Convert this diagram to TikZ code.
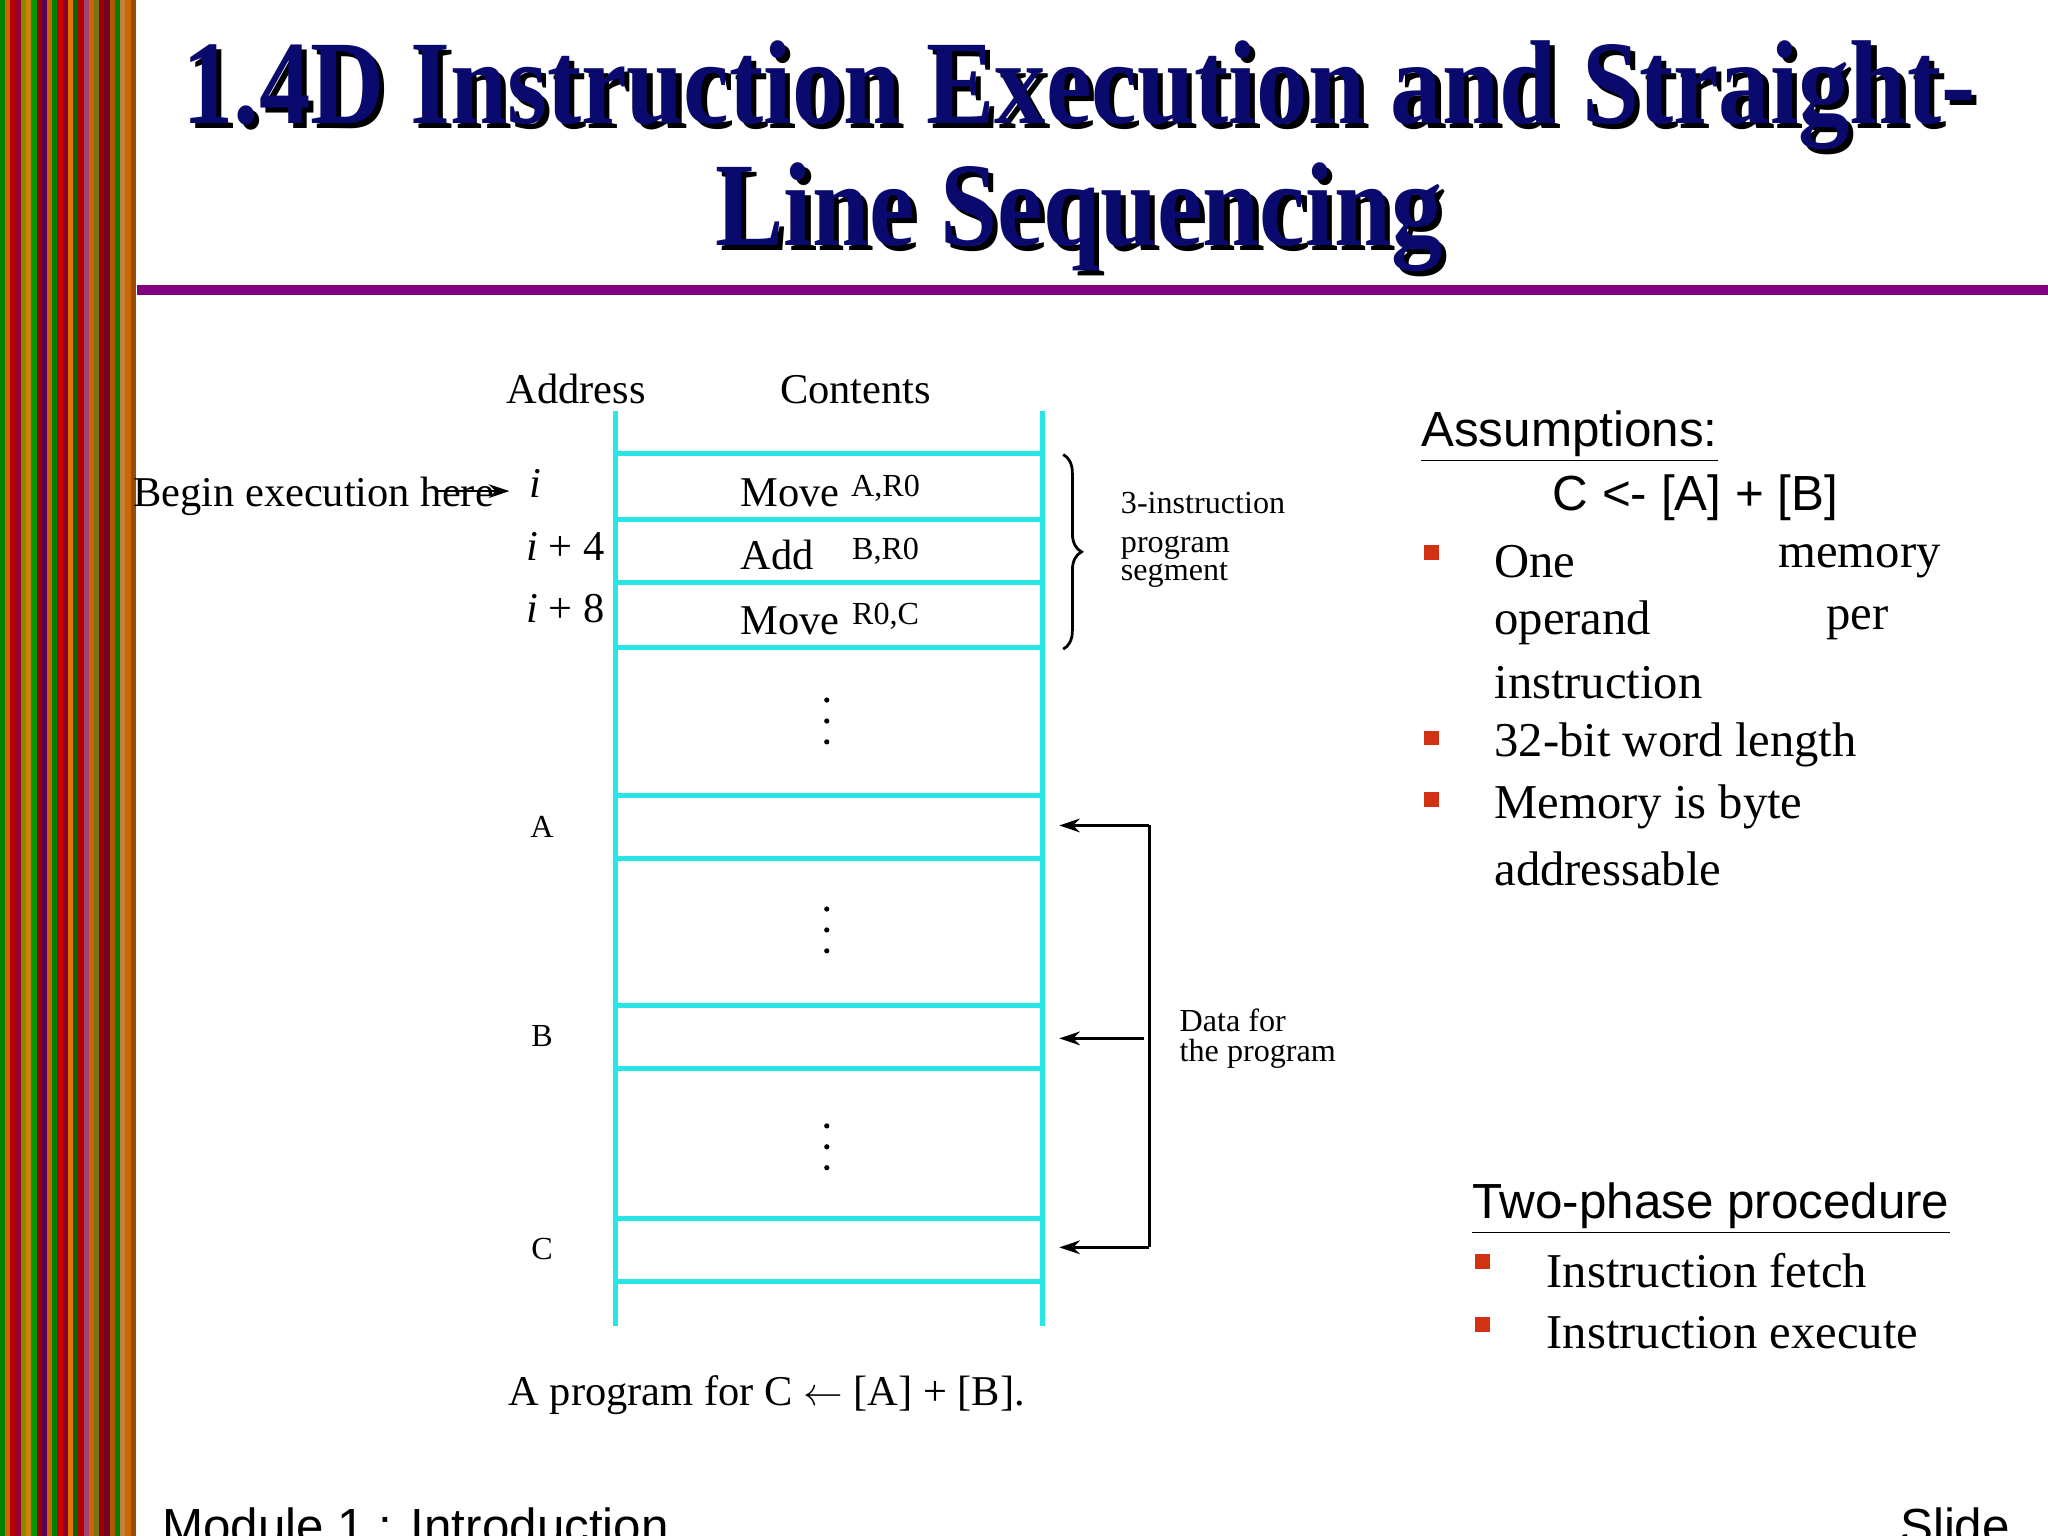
\documentclass[tikz,border=0pt]{standalone}
\usepackage{fontspec}
\setmainfont{Liberation Serif}
\setsansfont{Liberation Sans}
\usetikzlibrary{decorations.pathreplacing,arrows.meta}
\definecolor{cy}{RGB}{40,230,230}
\definecolor{navy}{RGB}{10,10,110}
\definecolor{purp}{RGB}{128,0,128}
\definecolor{bul}{RGB}{210,50,20}
\tikzset{
 cell/.style={draw=cy,line width=2.2pt},
 dg/.style={font=\fontsize{18.5}{20}\selectfont},
 sm/.style={font=\fontsize{14}{16}\selectfont},
 bt/.style={font=\fontsize{21.2}{24}\selectfont,anchor=west},
 sf/.style={font=\sffamily\fontsize{21.5}{24}\selectfont},
 sq/.style={fill=bul,minimum size=6.5pt,inner sep=0pt},
 arr/.style={line width=1.2pt,-{Stealth[length=9pt,width=6pt]}},
 ttl/.style={font=\fontsize{52}{60}\selectfont\bfseries},
}
\begin{document}
\begin{tikzpicture}[x=0.02cm,y=-0.02cm]
\useasboundingbox (0,0) rectangle (1568,1176);
\clip (0,0) rectangle (1568,1176);
% stripes
\foreach \i/\c in {0/green!50!black,4/orange!80!black,8/red!70!black,12/purple!80!black,16/olive,20/orange!70!yellow!80!black,24/green!60!black,28/red!60!black,32/violet!70!black,36/orange!80!black,40/green!50!black,44/red!80!black,48/purple!70!black,52/orange!90!black,56/green!40!black,60/red!70!black,64/magenta!60!black,68/orange!80!black,72/olive!80!black,76/red!60!black,80/purple!60!black,84/orange!70!black,88/green!50!black,92/brown,96/orange!80!black,100/orange!60!black}
  \fill[\c] (\i,0) rectangle ++(4,1176);
% title
\node[ttl,black] at (830,77) {\scalebox{0.86}[1]{1.4D Instruction Execution and Straight-}};
\node[ttl,navy] (t1) at (826,73) {\scalebox{0.86}[1]{1.4D Instruction Execution and Straight-}};
\node[ttl,black] at (830,170) {\scalebox{0.86}[1]{Line Sequencing}};
\node[ttl,navy] (t2) at (826,166) {\scalebox{0.86}[1]{Line Sequencing}};
\fill[purp] (105,218) rectangle (1568,226);
% table
\draw[cell] (471,315) -- (471,1015);
\draw[cell] (798,315) -- (798,1015);
\foreach \y in {347,398,446,496,609,657,770,818,933,981}
  \draw[cell] (471,\y) -- (798,\y);
\node[dg] (ad) at (441,298) {Address};
\node[dg] (co) at (655,298) {Contents};
\node[dg] (be) at (240,380) {Begin execution here};
\coordinate (bs) at (335,376); \coordinate (bt) at (390,376);
\draw[arr] (bs) -- (bt);
\node[dg] (a0) at (410,370) {\itshape i};
\node[dg] (a4) at (433,418) {\itshape i\normalfont\ + 4};
\node[dg] (a8) at (433,466) {\itshape i\normalfont\ + 8};
\node[dg] at (605,377) {Move}; \node[sm] at (678,374) {A,R0};
\node[dg] at (595,425) {Add}; \node[sm] at (678,422) {B,R0};
\node[dg] at (605,475) {Move}; \node[sm] at (678,472) {R0,C};
\foreach \y in {552,712,878}
  \foreach \d in {-16,0,16} \fill (633,\y+\d) circle (2);
\node[sm] (la) at (415,633) {A};
\node[sm] (lb) at (415,793) {B};
\node[sm] (lc) at (415,956) {C};
\draw[line width=1.2pt,decorate,decoration={brace,amplitude=8pt}] (814,348) -- (814,497);
\node[sm,anchor=west] at (852,385) {3-instruction};
\node[sm,anchor=west,align=left] at (852,430) {program\\[-4pt]segment};
% data bracket
\coordinate (da) at (811,632); \coordinate (db) at (811,795); \coordinate (dc) at (811,955);
\coordinate (ua) at (880,632); \coordinate (uc) at (880,955); \coordinate (ub) at (876,795);
\draw[line width=1.5pt] (ua) -- (uc);
\draw[arr] (ua) -- (da);
\draw[arr] (uc) -- (dc);
\draw[arr] (ub) -- (db);
\node[sm,anchor=west,align=left] at (897,795) {Data for\\[-3pt]the program};
\node[dg] (cap) at (587,1068) {A program for C $\leftarrow$ [A] + [B].};
% right text
\node[sf,anchor=west] at (1082,334) {\underline{Assumptions:}};
\node[sf] at (1298,381) {C <- [A] + [B]};
\node[sq] at (1096,423) {}; \node[sq] at (1096,565) {}; \node[sq] at (1096,612) {};
\node[bt] at (1138,430) {One}; \node[bt,anchor=east] at (1492,430) {memory};
\node[bt] at (1138,477) {operand}; \node[bt,anchor=east] at (1452,477) {per};
\node[bt] at (1138,523) {instruction};
\node[bt] at (1138,570) {32-bit word length};
\node[bt] at (1138,618) {Memory is byte};
\node[bt] at (1138,665) {addressable};
\node[sf,anchor=west] at (1121,925) {\underline{Two-phase procedure}};
\node[sq] at (1135,966) {}; \node[sq] at (1135,1014) {};
\node[bt] at (1178,973) {Instruction fetch};
\node[bt] at (1178,1020) {Instruction execute};
\node[sf,anchor=west] at (118,1168) {Module 1 : Introduction};
\node[sf,anchor=east] at (1545,1168) {Slide};
\end{tikzpicture}
\end{document}
